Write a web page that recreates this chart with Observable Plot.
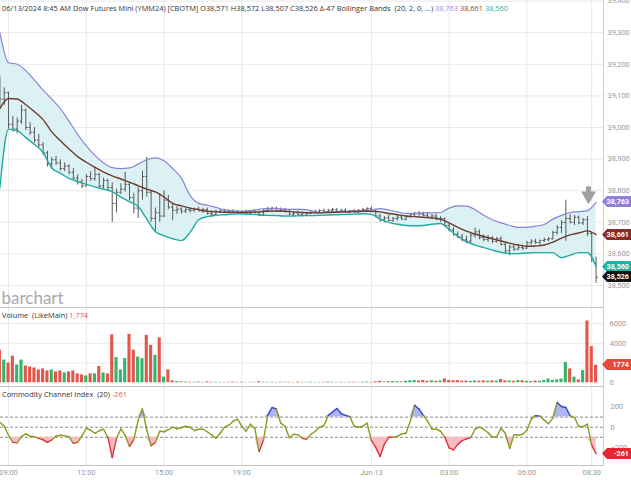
<!DOCTYPE html>
<html><head><meta charset="utf-8">
<script src="https://cdn.jsdelivr.net/npm/d3@7"></script>
<script src="https://cdn.jsdelivr.net/npm/@observablehq/plot@0.6"></script>
<style>
body{margin:0;background:#fff;font-family:"Open Sans",sans-serif;}
#c{position:relative;width:631px;height:480px;overflow:hidden;background:#fff;}
.pane{position:absolute;left:0;}
.t{position:absolute;left:2px;font-size:7.4px;color:#333;white-space:nowrap;line-height:10px;}
.badge{position:absolute;left:602px;width:29px;height:11px;color:#fff;font-family:Roboto,sans-serif;font-size:7.2px;font-weight:bold;line-height:11px;text-align:right;padding-right:2px;box-sizing:border-box;clip-path:polygon(0 50%,5px 0,100% 0,100% 100%,5px 100%);}
.hl{position:absolute;height:1px;background:#c4c4c4;left:0;width:604px;}
.vl{position:absolute;width:1px;background:#cfcfcf;left:603px;top:0;height:466px;}
</style></head><body><div id="c"></div>
<script>
// ---- data ----
const tickIndex = [2, 20, 38, 56, 86, 104, 122, 137];
const tickLabels = ["09:00", "12:00", "15:00", "19:00", "Jun 13", "03:00", "06:00", "08:30"];
const priceTicks = [38500, 38600, 38700, 38800, 38900, 39000, 39100, 39200, 39300, 39400];
const volTicks = [0, 4000, 6000];
const volGrid = [2000, 4000, 6000];
const cciTicks = [-200, 0, 200];
const cciLevels = [-100, 0, 100];

const open = [39140,39090,39110,39010,38995,39020,39055,39000,38985,38960,38945,38920,38885,38898,38888,38870,38878,38858,38840,38828,
38815,38845,38838,38852,38815,38832,38810,38760,38795,38805,38820,38778,38745,38800,38845,38795,38712,38730,38720,38770,
38748,38738,38742,38735,38740,38738,38742,38736,38740,38728,38724,38734,38736,38733,38735,38732,38730,38734,38726,38733,
38731,38722,38738,38742,38744,38738,38740,38734,38726,38730,38724,38722,38728,38732,38735,38737,38734,38738,38740,38735,
38738,38732,38736,38733,38738,38741,38744,38735,38720,38708,38714,38706,38712,38716,38710,38718,38725,38728,38726,38722,
38716,38720,38710,38712,38690,38676,38662,38654,38645,38640,38660,38670,38652,38646,38650,38640,38648,38630,38610,38622,
38615,38620,38618,38635,38640,38636,38642,38645,38648,38668,38684,38700,38712,38700,38716,38698,38708,38665,38571];
const high = [39160,39125,39112,39035,39030,39070,39058,39015,39000,38978,38952,38925,38905,38908,38898,38888,38882,38870,38850,38835,
38852,38860,38875,38855,38840,38836,38825,38805,38822,38858,38825,38792,38810,38862,38905,38800,38745,38790,38800,38785,
38760,38750,38746,38745,38746,38745,38748,38744,38745,38735,38738,38740,38741,38738,38740,38737,38736,38738,38736,38739,
38735,38740,38746,38748,38748,38745,38744,38738,38734,38736,38732,38730,38736,38738,38740,38742,38741,38744,38744,38742,
38742,38738,38741,38740,38744,38746,38748,38740,38726,38718,38722,38716,38720,38722,38720,38728,38732,38734,38732,38730,
38725,38726,38718,38714,38695,38684,38670,38662,38656,38665,38682,38676,38660,38658,38655,38652,38654,38634,38628,38630,
38626,38628,38640,38645,38646,38644,38650,38652,38672,38690,38705,38770,38725,38722,38720,38712,38718,38668,38590];
const low = [39060,39070,38995,38985,38980,39010,38990,38975,38950,38935,38912,38875,38868,38880,38862,38860,38850,38835,38818,38806,
38812,38830,38830,38808,38805,38800,38700,38730,38788,38795,38768,38727,38712,38770,38780,38700,38668,38700,38715,38740,
38705,38725,38726,38728,38730,38732,38734,38728,38722,38716,38720,38728,38730,38727,38729,38726,38722,38720,38722,38728,
38718,38720,38733,38736,38734,38732,38730,38722,38718,38720,38716,38717,38724,38726,38728,38730,38729,38733,38731,38730,
38728,38727,38729,38728,38733,38735,38730,38715,38700,38698,38702,38700,38704,38706,38705,38714,38718,38720,38718,38712,
38708,38705,38700,38685,38670,38656,38648,38638,38632,38632,38650,38645,38638,38636,38632,38634,38625,38600,38594,38608,
38610,38612,38615,38628,38630,38628,38636,38638,38644,38660,38665,38640,38695,38690,38692,38690,38655,38572,38507];
const close = [39090,39110,39010,38995,39020,39055,39000,38985,38960,38945,38920,38885,38898,38888,38870,38878,38858,38840,38828,38815,
38845,38838,38852,38815,38832,38810,38760,38795,38805,38820,38778,38745,38800,38845,38795,38712,38730,38720,38770,38748,
38738,38742,38735,38740,38738,38742,38736,38740,38728,38724,38734,38736,38733,38735,38732,38730,38734,38726,38733,38731,
38722,38738,38742,38744,38738,38740,38734,38726,38730,38724,38722,38728,38732,38735,38737,38734,38738,38740,38735,38738,
38732,38736,38733,38738,38741,38744,38735,38720,38708,38714,38706,38712,38716,38710,38718,38725,38728,38726,38722,38716,
38720,38710,38712,38690,38676,38662,38654,38645,38640,38660,38670,38652,38646,38650,38640,38648,38630,38610,38622,38615,
38620,38618,38635,38640,38636,38642,38645,38648,38668,38684,38700,38712,38700,38716,38698,38708,38665,38585,38526];

// Bollinger bands (20, 2), one value every second bar
const upper = [39300,39205,39200,39180,39150,39118,39090,39060,39020,38978,38942,38912,38888,38873,38870,38872,38884,38898,38904,38895,
38870,38840,38785,38760,38754,38747,38740,38736,38735,38737,38741,38744,38744,38742,38741,38741,38737,38730,38732,38734,
38735,38736,38737,38740,38743,38739,38733,38728,38728,38730,38730,38731,38745,38752,38751,38740,38722,38708,38698,38690,
38684,38684,38688,38693,38710,38722,38731,38734,38737,38763];
const middle = [39060,39092,39090,39072,39050,39025,38986,38958,38932,38908,38890,38874,38859,38847,38837,38827,38816,38805,38796,38780,
38760,38752,38745,38740,38735,38733,38732,38731,38731,38732,38733,38735,38736,38735,38733,38731,38730,38730,38731,38732,
38733,38734,38735,38735,38733,38728,38724,38720,38718,38716,38714,38710,38698,38684,38672,38663,38655,38648,38641,38634,
38628,38624,38625,38628,38637,38650,38660,38666,38673,38661];
const lower = [38810,38995,38990,38968,38946,38921,38872,38855,38839,38829,38820,38812,38805,38797,38780,38765,38750,38710,38670,38658,
38648,38642,38668,38708,38718,38722,38724,38726,38727,38726,38724,38722,38721,38720,38720,38721,38721,38722,38723,38724,
38725,38726,38727,38725,38710,38700,38694,38690,38689,38690,38694,38696,38677,38655,38638,38628,38620,38612,38605,38601,
38601,38603,38604,38604,38604,38588,38596,38604,38604,38560];

const volume = [3300,2300,2000,2700,1800,2300,1700,1600,1500,1300,1400,1200,1300,1100,1200,1000,1100,1200,900,800,
700,900,900,1650,1000,900,4850,2550,1300,2450,4900,3300,2600,2440,4800,3790,2780,4550,570,1300,
200,120,90,80,60,50,70,40,90,50,60,40,30,50,70,40,60,30,50,40,
110,60,40,50,30,60,40,50,30,70,40,50,60,30,40,50,80,60,40,50,
30,60,50,40,60,70,50,100,150,80,120,130,110,90,160,200,230,180,230,150,
200,140,180,380,230,200,220,160,180,150,200,170,190,160,200,180,330,200,180,160,
230,200,150,130,180,160,240,380,250,300,380,2050,1400,570,300,1230,6250,3660,1774];

const cci = [50,10,-80,-150,-155,-90,-65,-90,-95,-110,-125,-150,-125,-90,-80,-83,-95,-160,-150,-85,
-10,-30,-60,-35,-20,-100,-300,-110,-17,-80,-190,-120,67,180,-30,-183,-150,-40,-45,-25,
0,-15,-5,10,0,-33,-20,-20,-45,-75,-110,-60,0,20,60,80,10,-40,30,-10,
-240,-130,120,195,180,40,10,-105,-70,-75,-110,-120,-70,-40,0,17,117,150,185,135,
117,105,10,0,10,40,-133,-200,-290,-167,-100,-100,-90,-67,-60,60,217,180,120,60,
-17,-20,-40,-100,-205,-225,-170,-133,-115,-102,-20,0,-20,-55,-100,-95,-10,-60,-210,-75,
-80,-70,-30,80,115,110,70,35,90,245,205,195,115,95,10,5,30,-180,-261];

const alertArrow = [{i: 136.25, top: 38812, tip: 38784}];

// ---- tables ----
const bars = open.map((o, i) => ({i, o, h: high[i], l: low[i], c: close[i]}));
const bands = upper.map((u, k) => ({i: k * 2, u, m: middle[k], l: lower[k]}));
const vols = volume.map((v, i) => ({i, v, up: close[i] >= open[i]}));
const cciPts = cci.map((v, i) => ({i, v}));
const cciSeg = cci.slice(1).map((v, k) => {
  const a = cci[k], b = v;
  const col = (a >= 100 && b >= 100) ? "hi" : (a <= -100 && b <= -100) ? "lo" : "mid";
  return {i1: k, i2: k + 1, v1: a, v2: b, col};
});

const xDomain = [0.139, 139.72];
const GRID = "#e9e9e9";
const base = {width: 631, marginLeft: 0, marginRight: 28, marginTop: 0};
const axisStyle = {fontFamily: "Roboto, sans-serif", fontSize: "7.4px", color: "#9a9a9a", background: "transparent", overflow: "visible"};

const main = Plot.plot({
  ...base, height: 307, marginBottom: 0, style: axisStyle,
  x: {domain: xDomain, axis: null},
  y: {domain: [38430.4, 39401.9], axis: "right", ticks: priceTicks, tickFormat: d3.format(","), tickSize: 0, tickPadding: 4, label: null},
  marks: [
    Plot.ruleY(priceTicks, {stroke: GRID}),
    Plot.ruleX(tickIndex, {stroke: GRID}),
    Plot.areaY(bands, {x: "i", y1: "l", y2: "u", fill: "#dcf1f4", curve: "monotone-x"}),
    Plot.text(["barchart"], {frameAnchor: "bottom-left", dx: 1, dy: -4, fontSize: 17, fill: "#a9a9a9", fontFamily: "Lato, sans-serif", textAnchor: "start"}),
    Plot.ruleX(bars, {x: "i", y1: "l", y2: "h", stroke: "#5a5a5a", strokeWidth: 1}),
    Plot.link(bars, {x1: d => d.i - 0.4, x2: "i", y1: "o", y2: "o", stroke: "#5a5a5a"}),
    Plot.link(bars, {x1: "i", x2: d => d.i + 0.4, y1: "c", y2: "c", stroke: "#5a5a5a"}),
    Plot.line(bands, {x: "i", y: "u", stroke: "#8b84d6", strokeWidth: 1.2, curve: "monotone-x"}),
    Plot.line(bands, {x: "i", y: "m", stroke: "#6c3a2e", strokeWidth: 1.4, curve: "monotone-x"}),
    Plot.line(bands, {x: "i", y: "l", stroke: "#20aaa2", strokeWidth: 1.4, curve: "monotone-x"}),
    Plot.ruleX(alertArrow, {x: "i", y1: "top", y2: "tip", stroke: "#a0a0a0", strokeWidth: 5}),
    Plot.dot(alertArrow, {x: "i", y: "tip", symbol: "triangle", rotate: 180, r: 5.5, fill: "#a0a0a0"})
  ]
});

const volPlot = Plot.plot({
  ...base, height: 79, marginBottom: 0, style: axisStyle,
  x: {domain: xDomain, axis: null},
  y: {domain: [-374, 7619], axis: "right", ticks: volTicks, tickFormat: d => String(d), tickSize: 0, tickPadding: 6, label: null},
  marks: [
    Plot.ruleY(volGrid, {stroke: GRID}),
    Plot.ruleX(tickIndex, {stroke: GRID}),
    Plot.rect(vols, {x1: d => d.i - 0.36, x2: d => d.i + 0.36, y1: 0, y2: "v", fill: d => d.up ? "#34b46a" : "#e4554a"})
  ]
});

const cciPlot = Plot.plot({
  ...base, height: 94, marginBottom: 15, style: axisStyle,
  x: {domain: xDomain, ticks: tickIndex, tickFormat: i => tickLabels[tickIndex.indexOf(i)], tickSize: 0, tickPadding: 4, label: null},
  y: {domain: [-379, 403], axis: "right", ticks: cciTicks, tickSize: 0, tickPadding: 7, label: null},
  marks: [
    Plot.ruleX(tickIndex, {stroke: GRID}),
    Plot.ruleY(cciLevels, {stroke: "#8c8c8c", strokeDasharray: "3,2"}),
    Plot.areaY(cciPts, {x: "i", y1: 100, y2: d => Math.max(d.v, 100), fill: "#aeb6f1"}),
    Plot.areaY(cciPts, {x: "i", y1: -100, y2: d => Math.min(d.v, -100), fill: "#f6bcc1"}),
    Plot.link(cciSeg, {x1: "i1", x2: "i2", y1: "v1", y2: "v2", strokeWidth: 1.4, strokeLinecap: "round",
      stroke: d => d.col === "hi" ? "#3447d2" : d.col === "lo" ? "#e1303b" : "#8c9a1f"})
  ]
});

// ---- layout ----
const c = document.getElementById("c");
function place(el, top) { el.classList.add("pane"); el.style.top = top + "px"; c.appendChild(el); }
place(main, 0); place(volPlot, 307); place(cciPlot, 386);

function div(cls, css, html) { const d = document.createElement("div"); d.className = cls; d.style.cssText = css; if (html) d.innerHTML = html; c.appendChild(d); return d; }
div("hl", "top:307px"); div("hl", "top:386px"); div("hl", "top:465px"); div("vl", "");

div("t", "top:3px",
  '06/13/2024 8:45 AM Dow Futures Mini (YMM24) [CBOTM] O38,571 H38,572 L38,507 C38,526 \u0394-47 Bollinger Bands &nbsp;(20, 2, 0, ...) ' +
  '<span style="color:#9a90dc">38,763</span> <span style="color:#9c3d34">38,661</span> <span style="color:#1fb1aa">38,560</span>');
div("t", "top:310px", 'Volume &nbsp;(LikeMain) <span style="color:#e4554a">1,774</span>');
div("t", "top:389px", 'Commodity Channel Index &nbsp;(20) <span style="color:#e4554a">-261</span>');

const yMain = main.scale("y"), yVol = volPlot.scale("y"), yCci = cciPlot.scale("y");
const fmt = d3.format(",");
function badge(top, text, bg) { div("badge", `top:${Math.round(top - 5.5)}px;background:${bg}`, text); }
badge(yMain.apply(upper[upper.length - 1]), fmt(upper[upper.length - 1]), "#8f80d8");
badge(yMain.apply(middle[middle.length - 1]), fmt(middle[middle.length - 1]), "#8c2b22");
badge(yMain.apply(lower[lower.length - 1]), fmt(lower[lower.length - 1]), "#1fb3a6");
badge(yMain.apply(close[close.length - 1]), fmt(close[close.length - 1]), "#111");
badge(307 + yVol.apply(volume[volume.length - 1]), String(volume[volume.length - 1]), "#e34b3c");
badge(386 + yCci.apply(cci[cci.length - 1]), String(cci[cci.length - 1]), "#e3262f");
</script></body></html>
